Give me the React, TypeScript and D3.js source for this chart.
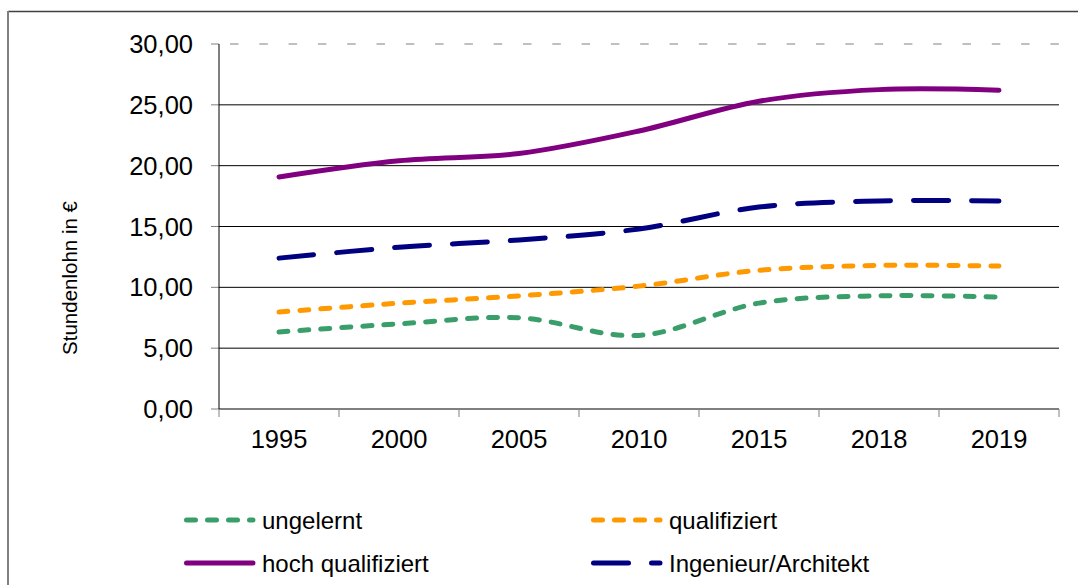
import React from "react";
import * as d3 from "d3";

const categories = ["1995", "2000", "2005", "2010", "2015", "2018", "2019"];
const ungelernt = [6.33, 7.0, 7.5, 6.05, 8.7, 9.3, 9.2];
const qualifiziert = [7.97, 8.7, 9.3, 10.1, 11.4, 11.8, 11.75];
const hochQualifiziert = [19.07, 20.4, 21.0, 22.85, 25.3, 26.25, 26.2];
const ingenieur = [12.4, 13.3, 13.9, 14.8, 16.6, 17.1, 17.1];
const yTicks = [0, 5, 10, 15, 20, 25, 30];
const yTitle = "Stundenlohn in €";

const series = [
  { name: "ungelernt", values: ungelernt, color: "#3a9e6a", dash: "9,12", width: 5 },
  { name: "qualifiziert", values: qualifiziert, color: "#ff9900", dash: "9,12", width: 5 },
  { name: "hoch qualifiziert", values: hochQualifiziert, color: "#800080", dash: null, width: 5 },
  { name: "Ingenieur/Architekt", values: ingenieur, color: "#000080", dash: "35,23", width: 5 },
];

const W = 1078;
const H = 585;
const FONT = "'Liberation Sans', Arial, sans-serif";

export default function App() {
  const left = 219, right = 1059, top = 44, bottom = 409;
  const x = d3.scaleBand<string>().domain(categories).range([left, right]).padding(0);
  const y = d3.scaleLinear().domain([0, 30]).range([bottom, top]);
  const fmt = (v: number) => d3.format(".2f")(v).replace(".", ",");
  const cx = (c: string) => (x(c) as number) + x.bandwidth() / 2;

  const line = d3
    .line<number>()
    .x((_, i) => cx(categories[i]))
    .y((d) => y(d))
    .curve(d3.curveCardinal.tension(0));

  const legendPos = [
    { lx: 184, ty: 520 },
    { lx: 591, ty: 520 },
    { lx: 184, ty: 563 },
    { lx: 591, ty: 563 },
  ];

  return (
    <div style={{ position: "absolute", left: 0, top: 0 }}>
      <svg width={W} height={H} style={{ display: "block", background: "#fff" }} fontFamily={FONT}>
        {/* frame */}
        <line x1={8} x2={W} y1={11.5} y2={11.5} stroke="#404040" strokeWidth={1.5} />
        <line x1={8} x2={8} y1={11} y2={H} stroke="#808080" strokeWidth={2} />

        {/* gridlines */}
        {yTicks.map((t) =>
          t === 0 ? null : t === 30 ? (
            <line key={t} x1={left} x2={right} y1={y(t)} y2={y(t)} stroke="#808080" strokeWidth={1}
              strokeDasharray="8.5,20.8" strokeDashoffset={-11} />
          ) : (
            <line key={t} x1={left} x2={right} y1={y(t)} y2={y(t)} stroke="#000" strokeWidth={1} />
          )
        )}

        {/* y ticks */}
        {yTicks.map((t) => (
          <g key={"yt" + t}>
            <line x1={left - 8} x2={left} y1={y(t)} y2={y(t)} stroke="#808080" strokeWidth={1} />
            <text x={193} y={y(t) + 9} textAnchor="end" fontSize={25.5} fill="#000">{fmt(t)}</text>
          </g>
        ))}

        {/* axes */}
        <line x1={left} x2={left} y1={top} y2={bottom} stroke="#000" strokeWidth={1} />
        <line x1={left} x2={right} y1={bottom} y2={bottom} stroke="#000" strokeWidth={1} />

        {/* x ticks */}
        {[...categories.map((c) => x(c) as number), right].map((px, i) => (
          <line key={"xt" + i} x1={px} x2={px} y1={bottom} y2={bottom + 8} stroke="#808080" strokeWidth={1} />
        ))}
        {categories.map((c) => (
          <text key={"xl" + c} x={cx(c)} y={448} textAnchor="middle" fontSize={25.5} fill="#000">{c}</text>
        ))}

        {/* y title */}
        <text transform={`translate(77,278) rotate(-90)`} textAnchor="middle" fontSize={20.5} fill="#000">{yTitle}</text>

        {/* series */}
        {series.map((s) => (
          <path key={s.name} d={line(s.values) || ""} fill="none" stroke={s.color} strokeWidth={s.width}
            strokeLinecap="round" strokeLinejoin="round" strokeDasharray={s.dash || undefined} />
        ))}

        {/* legend */}
        {series.map((s, i) => {
          const p = legendPos[i];
          return (
            <g key={"lg" + s.name}>
              <line x1={p.lx + 2.5} x2={p.lx + 69} y1={p.ty} y2={p.ty} stroke={s.color} strokeWidth={s.width}
                strokeLinecap="round" strokeDasharray={s.dash || undefined} />
              <text x={p.lx + 78} y={p.ty + 8.5} fontSize={24} fill="#000">{s.name}</text>
            </g>
          );
        })}
      </svg>
    </div>
  );
}
